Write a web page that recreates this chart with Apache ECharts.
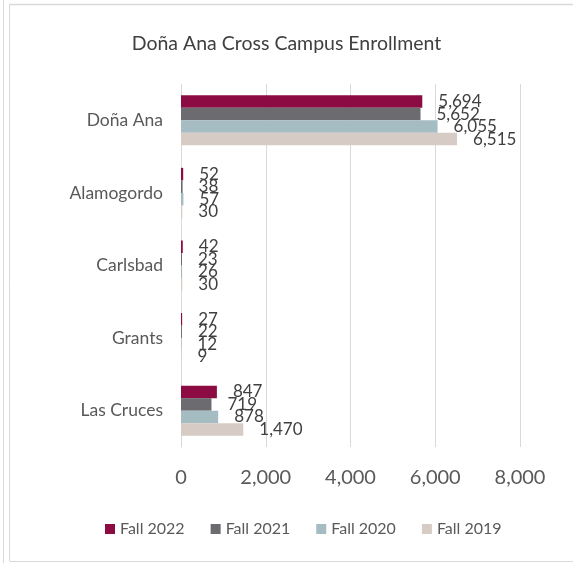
<!DOCTYPE html>
<html>
<head>
<meta charset="utf-8">
<script src="https://cdn.jsdelivr.net/npm/echarts@6/dist/echarts.min.js"></script>
<style>
html,body{margin:0;padding:0;background:#fff;}
#chart{width:573px;height:563px;}
</style>
</head>
<body>
<div id="chart"></div>
<script>
const categories = ['Doña Ana', 'Alamogordo', 'Carlsbad', 'Grants', 'Las Cruces'];
const seriesNames = ['Fall 2022', 'Fall 2021', 'Fall 2020', 'Fall 2019'];
const fall2022 = [5694, 52, 42, 27, 847];
const fall2021 = [5652, 38, 23, 22, 719];
const fall2020 = [6055, 57, 26, 12, 878];
const fall2019 = [6515, 30, 30, 9, 1470];
const xTicks = { min: 0, max: 8000, interval: 2000 };
const colors = ['#8c0b42', '#6b6b70', '#a5bcc2', '#d6ccc5'];

const values = [fall2022, fall2021, fall2020, fall2019];
const fontFam = 'Lato, "Open Sans", sans-serif';

const chart = echarts.init(document.getElementById('chart'));
chart.setOption({
  animation: false,
  color: colors,
  title: {
    text: 'Doña Ana Cross Campus Enrollment',
    left: 'center',
    top: 29,
    textStyle: { fontFamily: fontFam, fontSize: 19.5, fontWeight: 'normal', color: '#404040' }
  },
  legend: {
    data: seriesNames,
    top: 516,
    left: 100,
    itemWidth: 10,
    itemHeight: 10,
    itemGap: 26,
    icon: 'rect',
    textStyle: { fontFamily: fontFam, fontSize: 16, color: '#595959' }
  },
  grid: { left: 181, right: 53, top: 84, bottom: 116 },
  xAxis: {
    type: 'value',
    min: xTicks.min,
    max: xTicks.max,
    interval: xTicks.interval,
    axisLine: { show: false },
    axisTick: { show: false },
    splitLine: { lineStyle: { color: '#d9d9d9', width: 1 } },
    axisLabel: {
      margin: 21,
      fontFamily: fontFam,
      fontSize: 20,
      color: '#595959',
      formatter: v => v.toLocaleString('en-US')
    }
  },
  yAxis: {
    type: 'category',
    data: categories,
    inverse: true,
    axisLine: { show: true, lineStyle: { color: '#d9d9d9' } },
    axisTick: { show: false },
    axisLabel: { margin: 18, fontFamily: fontFam, fontSize: 17.5, color: '#595959' }
  },
  series: seriesNames.map((name, i) => ({
    name: name,
    type: 'bar',
    data: values[i],
    barGap: '0%',
    barCategoryGap: '31%',
    label: {
      show: true,
      position: 'right',
      distance: 16,
      fontFamily: fontFam,
      fontSize: 17,
      color: '#404040',
      formatter: p => p.value.toLocaleString('en-US')
    }
  })),
  graphic: [
    { type: 'line', shape: { x1: 3.5, y1: 0, x2: 3.5, y2: 563 }, style: { stroke: '#d9d9d9', lineWidth: 1 } },
    { type: 'line', shape: { x1: 9.5, y1: 4.5, x2: 9.5, y2: 561 }, style: { stroke: '#d9d9d9', lineWidth: 1 } },
    { type: 'line', shape: { x1: 9.5, y1: 4.5, x2: 573, y2: 4.5 }, style: { stroke: '#d9d9d9', lineWidth: 1.5 } },
    { type: 'line', shape: { x1: 9.5, y1: 561.5, x2: 573, y2: 561.5 }, style: { stroke: '#d9d9d9', lineWidth: 1 } }
  ]
});
</script>
</body>
</html>
